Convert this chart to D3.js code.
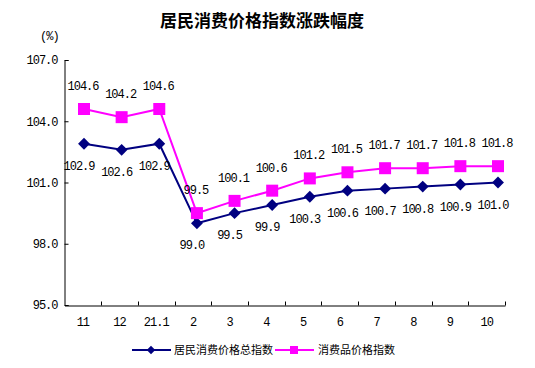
<!DOCTYPE html>
<html><head><meta charset="utf-8">
<script src="https://cdn.jsdelivr.net/npm/d3@7"></script>
<style>
body{margin:0;background:#fff;}
svg{display:block;}
.num{font-family:"Liberation Mono","DejaVu Sans Mono",monospace;font-size:12px;letter-spacing:-1px;fill:#000;}
.cjk{font-family:"Noto Sans CJK SC",sans-serif;fill:#000;}
</style></head>
<body>
<script>
const categories = ["11","12","21.1","2","3","4","5","6","7","8","9","10"];
const cpiTotal = [102.9,102.6,102.9,99.0,99.5,99.9,100.3,100.6,100.7,100.8,100.9,101.0];
const cpiGoods = [104.6,104.2,104.6,99.5,100.1,100.6,101.2,101.5,101.7,101.7,101.8,101.8];
const yTicks = [95,98,101,104,107];
const seriesNames = ["居民消费价格总指数","消费品价格指数"];
const title = "居民消费价格指数涨跌幅度";

const W=535,H=368;
const svg=d3.select("body").append("svg").attr("width",W).attr("height",H);

const x=d3.scaleBand().domain(categories).range([64.5,505]);
const xp=d3.scalePoint().domain(categories).range([84,498]);
const y=d3.scaleLinear().domain([95,107]).range([305,60]);

svg.append("text").attr("class","cjk").attr("x",262).attr("y",27)
  .attr("text-anchor","middle").style("font-size","17px").style("font-weight","bold").text(title);
svg.append("text").attr("class","num").attr("x",40).attr("y",40).text("(%)");

const ya=svg.append("g").attr("transform","translate(64.5,0)")
  .call(d3.axisLeft(y).tickValues(yTicks).tickSize(-4).tickPadding(7).tickFormat(d3.format(".1f")));
ya.select(".domain").attr("stroke","#000");
ya.selectAll(".tick line").attr("stroke","#000");
ya.selectAll("text").attr("class","num").attr("font-family",null).attr("font-size",null);

const xa=svg.append("g").attr("transform","translate(0,305.5)")
  .call(d3.axisBottom(x).tickSize(0).tickPadding(12));
xa.select(".domain").attr("stroke","#000");
xa.selectAll("text").attr("class","num").attr("font-family",null).attr("font-size",null);
const bounds=categories.map(c=>x(c)+x.bandwidth());
xa.selectAll(".btick").data(bounds).enter().append("line")
  .attr("x1",d=>Math.round(d)+0.5).attr("x2",d=>Math.round(d)+0.5).attr("y1",0).attr("y2",-4).attr("stroke","#000");

const blue="#000080", pink="#FF00FF";
const line=d3.line().x((d,i)=>xp(categories[i])).y(d=>y(d));

svg.append("path").datum(cpiTotal).attr("d",line).attr("fill","none").attr("stroke",blue).attr("stroke-width",2);
svg.append("path").datum(cpiGoods).attr("d",line).attr("fill","none").attr("stroke",pink).attr("stroke-width",2);

svg.selectAll(".dm").data(cpiTotal).enter().append("rect")
  .attr("x",-4.2).attr("y",-4.2).attr("width",8.4).attr("height",8.4)
  .attr("transform",(d,i)=>`translate(${xp(categories[i])},${y(d)}) rotate(45)`).attr("fill",blue);
svg.selectAll(".sq").data(cpiGoods).enter().append("rect")
  .attr("x",(d,i)=>xp(categories[i])-6).attr("y",d=>y(d)-6).attr("width",12).attr("height",12).attr("fill",pink);

svg.selectAll(".lb").data(cpiTotal).enter().append("text").attr("class","num")
  .attr("x",(d,i)=>xp(categories[i])-5).attr("y",d=>y(d)+26).attr("text-anchor","middle").text(d=>d.toFixed(1));
svg.selectAll(".lp").data(cpiGoods).enter().append("text").attr("class","num")
  .attr("x",(d,i)=>xp(categories[i])-1).attr("y",d=>y(d)-19).attr("text-anchor","middle").text(d=>d.toFixed(1));

const lg=svg.append("g");
lg.append("line").attr("x1",132).attr("x2",171).attr("y1",350).attr("y2",350).attr("stroke",blue).attr("stroke-width",2);
lg.append("rect").attr("x",-3).attr("y",-3).attr("width",6).attr("height",6).attr("fill",blue).attr("transform","translate(151,350) rotate(45)");
lg.append("text").attr("class","cjk").attr("x",174).attr("y",354).style("font-size","11px").text(seriesNames[0]);
lg.append("line").attr("x1",275).attr("x2",314).attr("y1",350).attr("y2",350).attr("stroke",pink).attr("stroke-width",2);
lg.append("rect").attr("x",290).attr("y",346).attr("width",8).attr("height",8).attr("fill",pink);
lg.append("text").attr("class","cjk").attr("x",318).attr("y",354).style("font-size","11px").text(seriesNames[1]);
</script>
</body></html>
